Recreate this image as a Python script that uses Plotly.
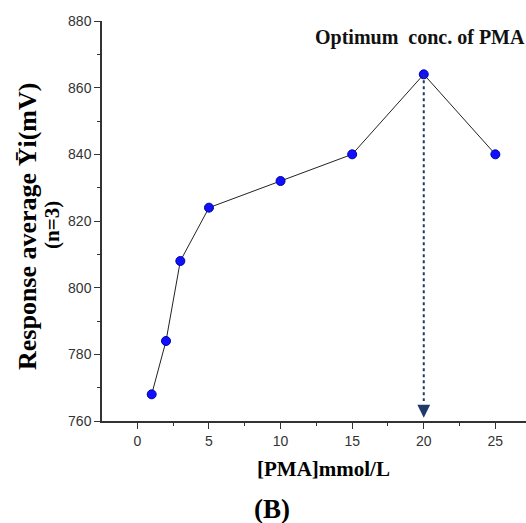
import plotly.graph_objects as go

conc = [1, 2, 3, 5, 10, 15, 20, 25]
response = [768, 784, 808, 824, 832, 840, 864, 840]
opt_x = 20
opt_y = 864

fig = go.Figure()
fig.add_shape(type="line", x0=opt_x, x1=opt_x, y0=opt_y, y1=766, xref="x", yref="y",
              line=dict(color="#1f3a68", width=2, dash="dot"))
fig.add_trace(go.Scatter(
    x=conc, y=response, mode="lines+markers",
    line=dict(color="#222222", width=1),
    marker=dict(color="#1010ff", size=9, line=dict(color="#0000aa", width=1)),
    showlegend=False, cliponaxis=False,
))
# arrow head at optimum
fig.add_annotation(
    x=opt_x, y=761, ax=opt_x, ay=765, xref="x", yref="y", axref="x", ayref="y",
    showarrow=True, arrowhead=2, arrowsize=1.6, arrowwidth=1.6, arrowcolor="#1f3a68",
    text="", standoff=0,
)

W, H = 526, 523
ml, mr, mt, mb = 102, 0, 21, 102
pw, ph = W - ml - mr, H - mt - mb


def px(x, y):
    return (x - ml) / pw, 1 - (y - mt) / ph


def add_text(x, y, text, size, angle=0, anchor="center", color="#000000"):
    X, Y = px(x, y)
    fig.add_annotation(
        x=X, y=Y, xref="paper", yref="paper", showarrow=False, xanchor=anchor,
        yanchor="middle", textangle=angle, text=text,
        font=dict(family="Liberation Serif", size=size, color=color),
    )


add_text(313, 38, "<b>Optimum  conc. of PMA</b>", 20, anchor="left", color="#111111")
add_text(272, 509, "<b>(B)</b>", 27)
add_text(323, 469, "<b>[PMA]mmol/L</b>", 21)
add_text(27, 227, "<b>Response average Ȳi(mV)</b>", 26, angle=-90)
add_text(52, 225, "<b>(n=3)</b>", 21, angle=-90)

axis_common = dict(
    showline=True, linecolor="#333333", linewidth=1.5, ticks="outside", ticklen=6,
    tickwidth=1.2, tickcolor="#333333", showgrid=False, zeroline=False,
    tickfont=dict(family="Liberation Sans", size=14, color="#333333"),
    minor=dict(ticks="outside", ticklen=3, tickwidth=1.2, tickcolor="#333333"),
)
fig.update_xaxes(range=[-2.47, 27.14], tick0=0, dtick=5, minor_dtick=2.5, **axis_common)
fig.update_yaxes(range=[760, 880], tick0=760, dtick=20, minor_dtick=10, **axis_common)
fig.update_layout(
    width=W, height=H, margin=dict(l=ml, r=mr, t=mt, b=mb),
    plot_bgcolor="white", paper_bgcolor="white",
)
fig.write_html("out.html")
